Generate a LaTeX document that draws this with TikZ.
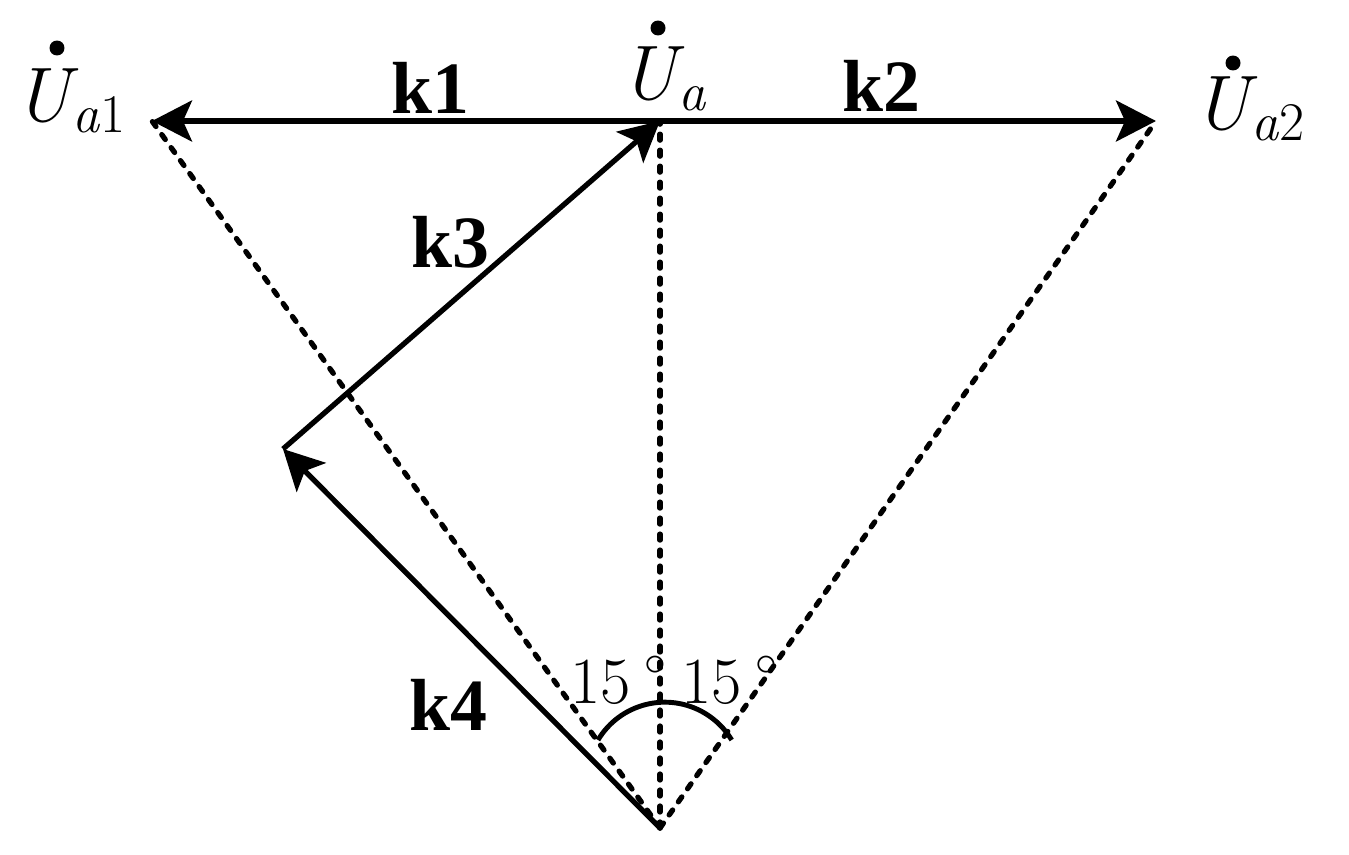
\documentclass[tikz,border=0pt]{standalone}
\usepackage{fontspec}
\newfontfamily\kfont{Liberation Serif}
\usetikzlibrary{arrows.meta}
\newcommand\Ulab[1]{\textit{U}\kern-0.08em\raisebox{-5.7pt}{\fontsize{31}{34}\selectfont #1}}
\newcommand\degsign{\raisebox{6.8pt}{$^\circ$}}
\tikzset{
  vec/.style={line width=3pt, -{Stealth[length=0.8cm, width=0.82cm, inset=0.18cm]}},
  dash line/.style={line width=3pt, line cap=round, dash pattern=on 0.12cm off 0.2cm},
  klabel/.style={anchor=base, inner sep=0pt, font=\kfont\bfseries\fontsize{42}{48}\selectfont},
  ulabel/.style={anchor=base west, inner sep=0pt, font=\fontsize{44}{50}\selectfont},
  deglabel/.style={anchor=base west, inner sep=0pt, font=\fontsize{37.5}{44}\selectfont},
  udot/.style={fill=black}
}
\begin{document}
\begin{tikzpicture}[x=0.02cm, y=0.02cm]
\useasboundingbox (0,0) rectangle (1349,-855);
\coordinate (O) at (660,-828);
\coordinate (A) at (660,-121);
\coordinate (A1) at (152,-121);
\coordinate (A2) at (1156,-121);
\coordinate (M) at (283,-449);
\coordinate (arcL) at (598,-740);
% dashed lines
\draw[dash line] (O) -- (A1);
\draw[dash line] (O) -- (A);
\draw[dash line] (O) -- (A2);
% angle arc
\draw[line width=2.8pt] (arcL) arc[start angle=149, end angle=31, radius=1.56cm];
% vectors
\draw[vec] (A) -- (A1);
\draw[vec] (A) -- (A2);
\draw[vec] (M) -- (A);
\draw[vec] (O) -- (M);
% labels
\node[klabel] (k1) at (430,-113) {k1};
\node[klabel] (k2) at (881,-112) {k2};
\node[klabel] (k3) at (450,-267) {k3};
\node[klabel] (k4) at (448,-730) {k4};
\node[ulabel] (u1) at (14,-122) {\Ulab{\textit{a}1}};
\node[ulabel] (u) at (620,-100) {\Ulab{\textit{a}}};
\node[ulabel] (u2) at (1193,-130) {\Ulab{\textit{a}2}};
\fill[udot] ([shift={(43,74)}]u1.base west) circle (0.15cm);
\fill[udot] ([shift={(38,72)}]u.base west) circle (0.15cm);
\fill[udot] ([shift={(40,67)}]u2.base west) circle (0.15cm);
\node[deglabel] (d1) at (570,-703) {15\kern0.2em\degsign};
\node[deglabel] (d2) at (681,-703) {15\kern0.2em\degsign};
\end{tikzpicture}
\end{document}
